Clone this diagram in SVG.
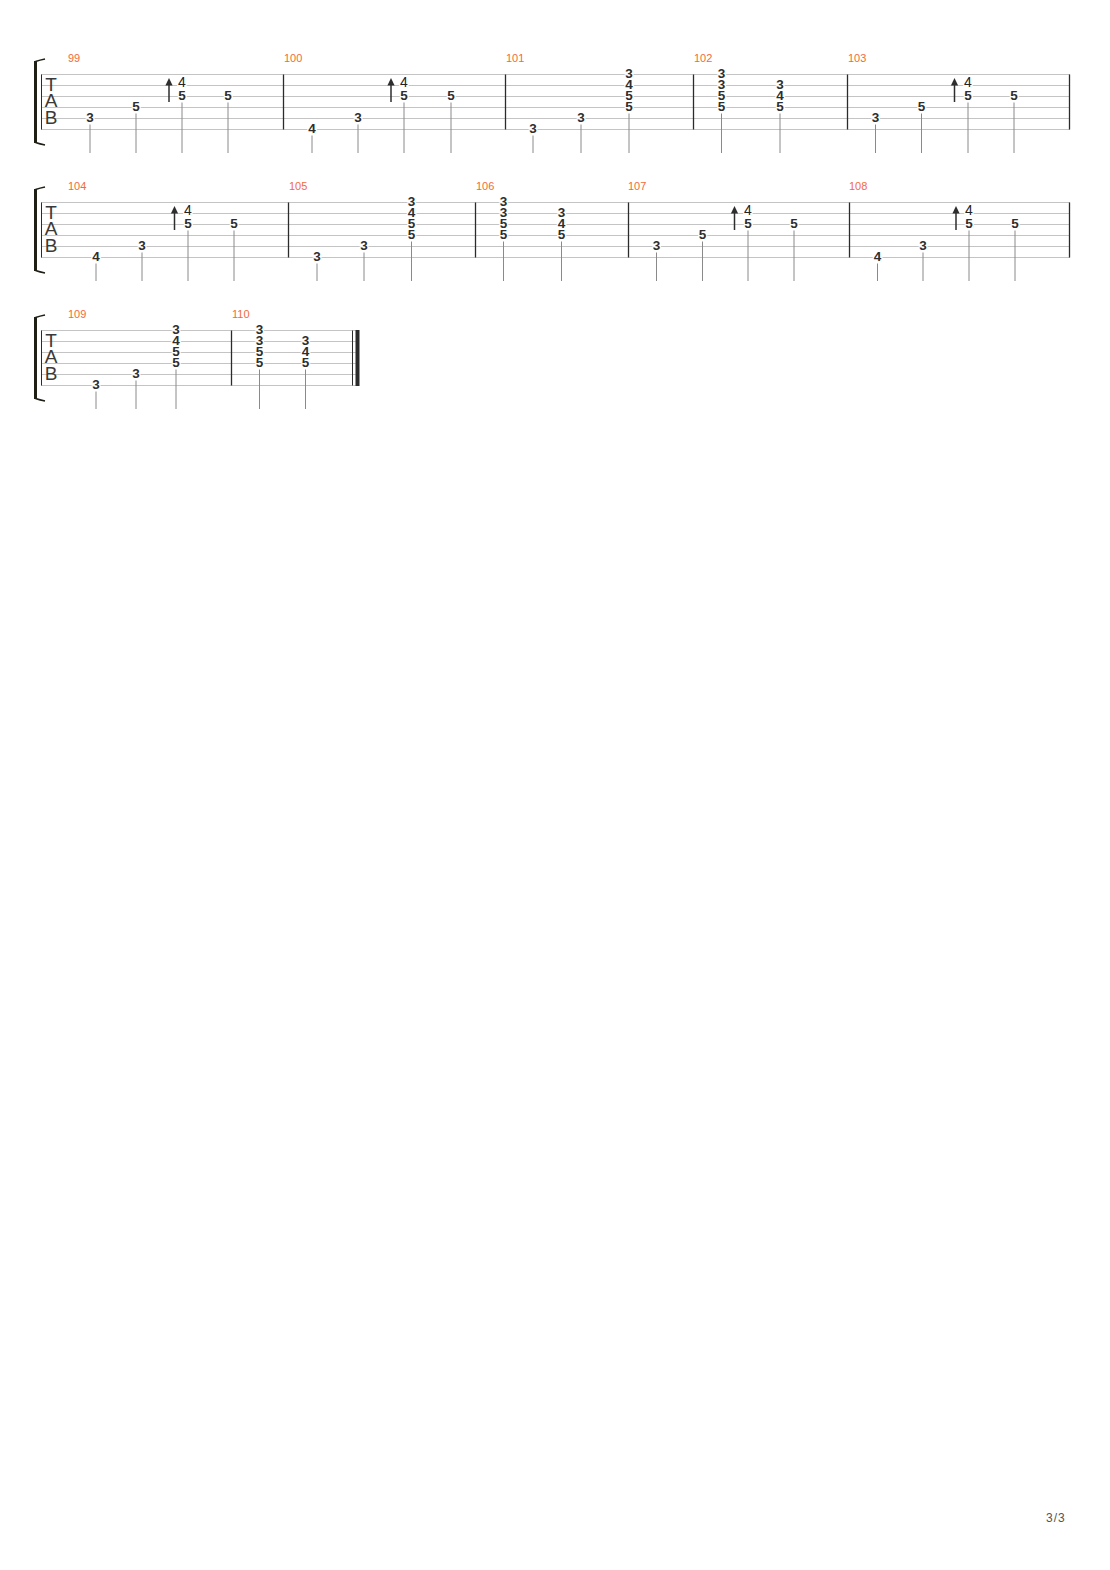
<svg xmlns="http://www.w3.org/2000/svg" xmlns:xlink="http://www.w3.org/1999/xlink" width="1110" height="1570" viewBox="0 0 1110 1570">
<style>
.staff line{stroke:#c4c4c4;stroke-width:1}
.bar{stroke:#2b2b2b;stroke-width:1.3}
.stem{stroke:#8a8a8a;stroke-width:1}
.n{font-family:"Liberation Sans",Arial,sans-serif;font-weight:bold;font-size:13.5px;fill:#2e2e2e;text-anchor:middle;stroke:#fff;stroke-width:2.5px;paint-order:stroke;stroke-linejoin:round}
.g{font-weight:normal;font-size:14px;fill:#222}
.mn{font-family:"Liberation Sans",Arial,sans-serif;font-size:11px;fill:#f26a3a}
.tab{font-family:"Liberation Sans",Arial,sans-serif;font-size:19px;fill:#3a3a3a;text-anchor:middle}
.brk{fill:#1f1f16}
.hook{fill:none;stroke:#1f1f16;stroke-width:1.6}
.arr{fill:#2e2e2e;stroke:none}
.arrl{stroke:#2e2e2e;stroke-width:1.5}
.foot{font-family:"Liberation Sans",Arial,sans-serif;font-size:12px;fill:#555;letter-spacing:1px}
</style>
<defs>
<g id="arrow"><line class="arrl" x1="0" y1="84" x2="0" y2="102"/><polygon class="arr" points="0,78 -3.6,85.5 3.6,85.5"/></g>
<g id="bracket"><rect class="brk" x="34" y="61" width="3" height="82"/><path class="hook" d="M35.5,61.5 Q40,60 45,59"/><path class="hook" d="M35.5,142.5 Q40,144 45,145"/></g>
<g id="tabclef"><text class="tab" x="51" y="91">T</text><text class="tab" x="51" y="107">A</text><text class="tab" x="51" y="124">B</text></g>
</defs>
<rect width="1110" height="1570" fill="#fff"/>

<!-- System 1 -->
<g id="system1">
<use href="#bracket"/>
<g class="staff">
<line x1="41" y1="74.5" x2="1070" y2="74.5"/><line x1="41" y1="85.5" x2="1070" y2="85.5"/><line x1="41" y1="96.5" x2="1070" y2="96.5"/><line x1="41" y1="107.5" x2="1070" y2="107.5"/><line x1="41" y1="118.5" x2="1070" y2="118.5"/><line x1="41" y1="129.5" x2="1070" y2="129.5"/>
</g>
<line class="bar" x1="41.5" y1="74.5" x2="41.5" y2="129.5" style="stroke-width:1"/>
<use href="#tabclef"/>
<g class="bars">
<line class="bar" x1="283.5" y1="74.5" x2="283.5" y2="129.5"/><line class="bar" x1="505.5" y1="74.5" x2="505.5" y2="129.5"/><line class="bar" x1="693.5" y1="74.5" x2="693.5" y2="129.5"/><line class="bar" x1="847.5" y1="74.5" x2="847.5" y2="129.5"/><line class="bar" x1="1069.5" y1="74.5" x2="1069.5" y2="129.5"/>
</g>
<g id="m99">
<text class="mn" x="68" y="62">99</text>
<line class="stem" x1="90" y1="124.5" x2="90" y2="153"/><text class="n" x="90" y="122">3</text>
<line class="stem" x1="136" y1="113.5" x2="136" y2="153"/><text class="n" x="136" y="111">5</text>
<use href="#arrow" x="169"/>
<line class="stem" x1="182" y1="102.5" x2="182" y2="153"/><text class="n g" x="182" y="87">4</text><text class="n" x="182" y="100">5</text>
<line class="stem" x1="228" y1="102.5" x2="228" y2="153"/><text class="n" x="228" y="100">5</text>
</g>
<g id="m100">
<text class="mn" x="284" y="62">100</text>
<line class="stem" x1="312" y1="135.5" x2="312" y2="153"/><text class="n" x="312" y="133">4</text>
<line class="stem" x1="358" y1="124.5" x2="358" y2="153"/><text class="n" x="358" y="122">3</text>
<use href="#arrow" x="391"/>
<line class="stem" x1="404" y1="102.5" x2="404" y2="153"/><text class="n g" x="404" y="87">4</text><text class="n" x="404" y="100">5</text>
<line class="stem" x1="451" y1="102.5" x2="451" y2="153"/><text class="n" x="451" y="100">5</text>
</g>
<g id="m101">
<text class="mn" x="506" y="62">101</text>
<line class="stem" x1="533" y1="135.5" x2="533" y2="153"/><text class="n" x="533" y="133">3</text>
<line class="stem" x1="581" y1="124.5" x2="581" y2="153"/><text class="n" x="581" y="122">3</text>
<line class="stem" x1="629" y1="113.5" x2="629" y2="153"/><text class="n" x="629" y="78">3</text><text class="n" x="629" y="89">4</text><text class="n" x="629" y="100">5</text><text class="n" x="629" y="111">5</text>
</g>
<g id="m102">
<text class="mn" x="694" y="62">102</text>
<line class="stem" x1="721.5" y1="113.5" x2="721.5" y2="153"/><text class="n" x="721.5" y="78">3</text><text class="n" x="721.5" y="89">3</text><text class="n" x="721.5" y="100">5</text><text class="n" x="721.5" y="111">5</text>
<line class="stem" x1="780" y1="113.5" x2="780" y2="153"/><text class="n" x="780" y="89">3</text><text class="n" x="780" y="100">4</text><text class="n" x="780" y="111">5</text>
</g>
<g id="m103">
<text class="mn" x="848" y="62">103</text>
<line class="stem" x1="875.5" y1="124.5" x2="875.5" y2="153"/><text class="n" x="875.5" y="122">3</text>
<line class="stem" x1="921.5" y1="113.5" x2="921.5" y2="153"/><text class="n" x="921.5" y="111">5</text>
<use href="#arrow" x="954.5"/>
<line class="stem" x1="968" y1="102.5" x2="968" y2="153"/><text class="n g" x="968" y="87">4</text><text class="n" x="968" y="100">5</text>
<line class="stem" x1="1014" y1="102.5" x2="1014" y2="153"/><text class="n" x="1014" y="100">5</text>
</g>
</g>

<!-- System 2 -->
<g id="system2" transform="translate(0,128)">
<use href="#bracket"/>
<g class="staff">
<line x1="41" y1="74.5" x2="1070" y2="74.5"/><line x1="41" y1="85.5" x2="1070" y2="85.5"/><line x1="41" y1="96.5" x2="1070" y2="96.5"/><line x1="41" y1="107.5" x2="1070" y2="107.5"/><line x1="41" y1="118.5" x2="1070" y2="118.5"/><line x1="41" y1="129.5" x2="1070" y2="129.5"/>
</g>
<line class="bar" x1="41.5" y1="74.5" x2="41.5" y2="129.5" style="stroke-width:1"/>
<use href="#tabclef"/>
<g class="bars">
<line class="bar" x1="288.5" y1="74.5" x2="288.5" y2="129.5"/><line class="bar" x1="475.5" y1="74.5" x2="475.5" y2="129.5"/><line class="bar" x1="628.5" y1="74.5" x2="628.5" y2="129.5"/><line class="bar" x1="849.5" y1="74.5" x2="849.5" y2="129.5"/><line class="bar" x1="1069.5" y1="74.5" x2="1069.5" y2="129.5"/>
</g>
<g id="m104">
<text class="mn" x="68" y="62">104</text>
<line class="stem" x1="96" y1="135.5" x2="96" y2="153"/><text class="n" x="96" y="133">4</text>
<line class="stem" x1="142" y1="124.5" x2="142" y2="153"/><text class="n" x="142" y="122">3</text>
<use href="#arrow" x="174.5"/>
<line class="stem" x1="188" y1="102.5" x2="188" y2="153"/><text class="n g" x="188" y="87">4</text><text class="n" x="188" y="100">5</text>
<line class="stem" x1="234" y1="102.5" x2="234" y2="153"/><text class="n" x="234" y="100">5</text>
</g>
<g id="m105">
<text class="mn" x="289" y="62">105</text>
<line class="stem" x1="317" y1="135.5" x2="317" y2="153"/><text class="n" x="317" y="133">3</text>
<line class="stem" x1="364" y1="124.5" x2="364" y2="153"/><text class="n" x="364" y="122">3</text>
<line class="stem" x1="411.5" y1="113.5" x2="411.5" y2="153"/><text class="n" x="411.5" y="78">3</text><text class="n" x="411.5" y="89">4</text><text class="n" x="411.5" y="100">5</text><text class="n" x="411.5" y="111">5</text>
</g>
<g id="m106">
<text class="mn" x="476" y="62">106</text>
<line class="stem" x1="503.5" y1="113.5" x2="503.5" y2="153"/><text class="n" x="503.5" y="78">3</text><text class="n" x="503.5" y="89">3</text><text class="n" x="503.5" y="100">5</text><text class="n" x="503.5" y="111">5</text>
<line class="stem" x1="561.5" y1="113.5" x2="561.5" y2="153"/><text class="n" x="561.5" y="89">3</text><text class="n" x="561.5" y="100">4</text><text class="n" x="561.5" y="111">5</text>
</g>
<g id="m107">
<text class="mn" x="628" y="62">107</text>
<line class="stem" x1="656.5" y1="124.5" x2="656.5" y2="153"/><text class="n" x="656.5" y="122">3</text>
<line class="stem" x1="702.5" y1="113.5" x2="702.5" y2="153"/><text class="n" x="702.5" y="111">5</text>
<use href="#arrow" x="734.5"/>
<line class="stem" x1="748" y1="102.5" x2="748" y2="153"/><text class="n g" x="748" y="87">4</text><text class="n" x="748" y="100">5</text>
<line class="stem" x1="794" y1="102.5" x2="794" y2="153"/><text class="n" x="794" y="100">5</text>
</g>
<g id="m108">
<text class="mn" x="849" y="62">108</text>
<line class="stem" x1="877.5" y1="135.5" x2="877.5" y2="153"/><text class="n" x="877.5" y="133">4</text>
<line class="stem" x1="923" y1="124.5" x2="923" y2="153"/><text class="n" x="923" y="122">3</text>
<use href="#arrow" x="956"/>
<line class="stem" x1="969" y1="102.5" x2="969" y2="153"/><text class="n g" x="969" y="87">4</text><text class="n" x="969" y="100">5</text>
<line class="stem" x1="1015" y1="102.5" x2="1015" y2="153"/><text class="n" x="1015" y="100">5</text>
</g>
</g>

<!-- System 3 -->
<g id="system3" transform="translate(0,256)">
<use href="#bracket"/>
<g class="staff">
<line x1="41" y1="74.5" x2="356" y2="74.5"/><line x1="41" y1="85.5" x2="356" y2="85.5"/><line x1="41" y1="96.5" x2="356" y2="96.5"/><line x1="41" y1="107.5" x2="356" y2="107.5"/><line x1="41" y1="118.5" x2="356" y2="118.5"/><line x1="41" y1="129.5" x2="356" y2="129.5"/>
</g>
<line class="bar" x1="41.5" y1="74.5" x2="41.5" y2="129.5" style="stroke-width:1"/>
<use href="#tabclef"/>
<g class="bars">
<line class="bar" x1="231.5" y1="74.5" x2="231.5" y2="129.5"/><line class="bar" x1="352.5" y1="74.5" x2="352.5" y2="129.5" style="stroke-width:1"/><rect x="355.5" y="74" width="4" height="56" fill="#2b2b2b"/>
</g>
<g id="m109">
<text class="mn" x="68" y="62">109</text>
<line class="stem" x1="96" y1="135.5" x2="96" y2="153"/><text class="n" x="96" y="133">3</text>
<line class="stem" x1="136" y1="124.5" x2="136" y2="153"/><text class="n" x="136" y="122">3</text>
<line class="stem" x1="176" y1="113.5" x2="176" y2="153"/><text class="n" x="176" y="78">3</text><text class="n" x="176" y="89">4</text><text class="n" x="176" y="100">5</text><text class="n" x="176" y="111">5</text>
</g>
<g id="m110">
<text class="mn" x="232" y="62">110</text>
<line class="stem" x1="259.5" y1="113.5" x2="259.5" y2="153"/><text class="n" x="259.5" y="78">3</text><text class="n" x="259.5" y="89">3</text><text class="n" x="259.5" y="100">5</text><text class="n" x="259.5" y="111">5</text>
<line class="stem" x1="305.5" y1="113.5" x2="305.5" y2="153"/><text class="n" x="305.5" y="89">3</text><text class="n" x="305.5" y="100">4</text><text class="n" x="305.5" y="111">5</text>
</g>
</g>

<text class="foot" x="1046" y="1522">3/3</text>
</svg>
